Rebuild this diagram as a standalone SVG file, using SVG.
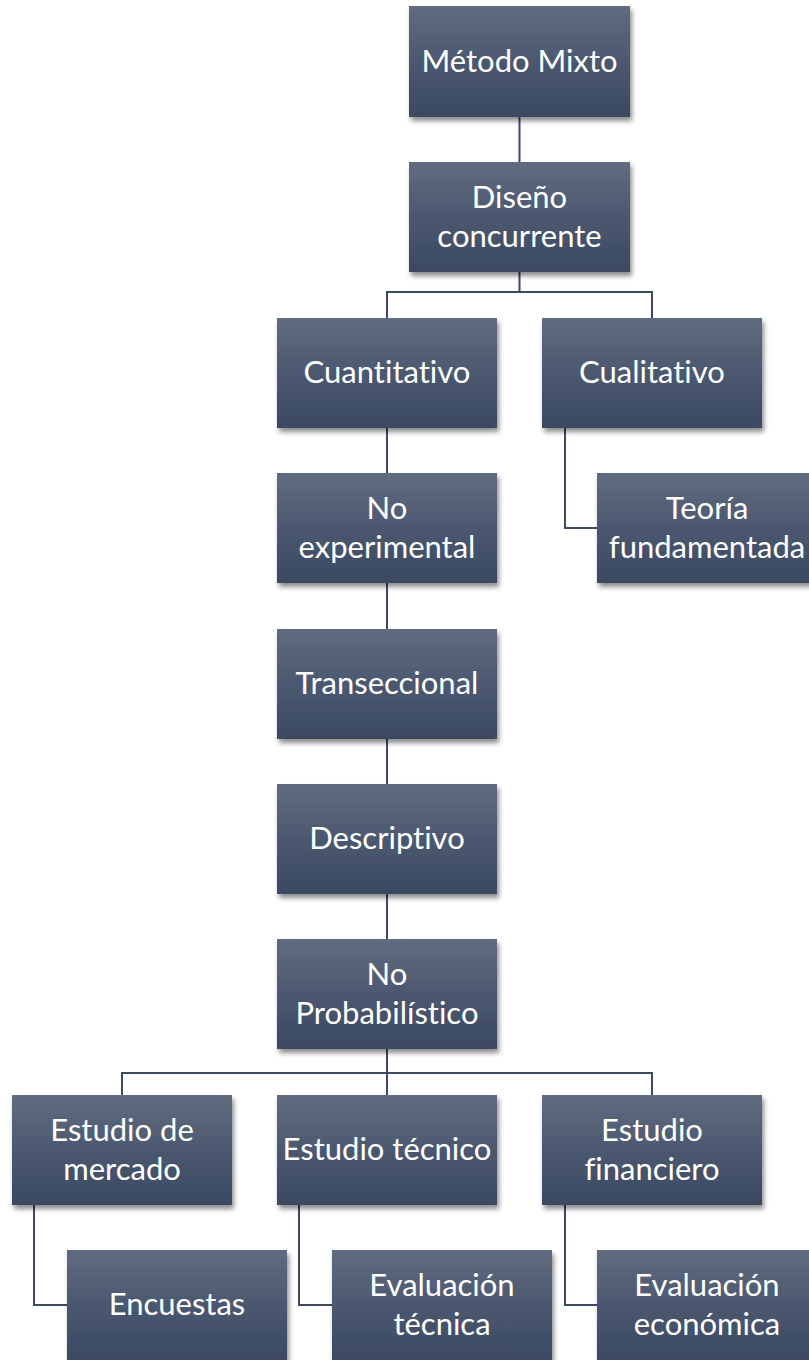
<svg xmlns="http://www.w3.org/2000/svg" width="809" height="1360" viewBox="0 0 809 1360">
<defs>
<linearGradient id="g" x1="0" y1="0" x2="0" y2="1">
<stop offset="0" stop-color="#616c7f"/>
<stop offset="0.5" stop-color="#4b5870"/>
<stop offset="1" stop-color="#3b4962"/>
</linearGradient>
<filter id="sh" x="-10%" y="-10%" width="125%" height="130%">
<feDropShadow dx="2" dy="4" stdDeviation="2.5" flood-color="#000" flood-opacity="0.45"/>
</filter>
</defs>
<style>
.box{fill:url(#g);filter:url(#sh);}
.t{font-family:Lato,"Liberation Sans",sans-serif;font-size:31px;fill:#ffffff;text-anchor:middle;font-variant-ligatures:none;font-feature-settings:"liga" 0,"clig" 0,"dlig" 0;}
.c{fill:none;stroke:#3d4a60;stroke-width:2;}
</style>
<rect width="809" height="1360" fill="#ffffff"/>
<g id="connectors">
<path class="c" d="M519.5,117 V162"/>
<path class="c" d="M519.5,272 V292 M387,318 V292 H652 V318"/>
<path class="c" d="M387,428 V473"/>
<path class="c" d="M565,428 V528 H597"/>
<path class="c" d="M387,583 V629"/>
<path class="c" d="M387,739 V784"/>
<path class="c" d="M387,894 V939"/>
<path class="c" d="M387,1049 V1095 M122,1095 V1073 H652 V1095"/>
<path class="c" d="M34,1205 V1305 H67"/>
<path class="c" d="M299,1205 V1305 H332"/>
<path class="c" d="M565,1205 V1305 H597"/>
</g>
<g id="n1"><rect class="box" x="409" y="6" width="221" height="111"/><text class="t" x="519.5" y="72">Método Mixto</text></g>
<g id="n2"><rect class="box" x="409" y="162" width="221" height="110"/><text class="t" x="519.5" y="208">Diseño</text><text class="t" x="519.5" y="247">concurrente</text></g>
<g id="n3"><rect class="box" x="277" y="318" width="220" height="110"/><text class="t" x="387" y="383">Cuantitativo</text></g>
<g id="n4"><rect class="box" x="542" y="318" width="220" height="110"/><text class="t" x="652" y="383">Cualitativo</text></g>
<g id="n5"><rect class="box" x="277" y="473" width="220" height="110"/><text class="t" x="387" y="519">No</text><text class="t" x="387" y="558">experimental</text></g>
<g id="n6"><rect class="box" x="597" y="473" width="220" height="110"/><text class="t" x="707" y="519">Teoría</text><text class="t" x="707" y="558">fundamentada</text></g>
<g id="n7"><rect class="box" x="277" y="629" width="220" height="110"/><text class="t" x="387" y="694">Transeccional</text></g>
<g id="n8"><rect class="box" x="277" y="784" width="220" height="110"/><text class="t" x="387" y="849">Descriptivo</text></g>
<g id="n9"><rect class="box" x="277" y="939" width="220" height="110"/><text class="t" x="387" y="985">No</text><text class="t" x="387" y="1024">Probabilístico</text></g>
<g id="n10"><rect class="box" x="12" y="1095" width="220" height="110"/><text class="t" x="122" y="1141">Estudio de</text><text class="t" x="122" y="1180">mercado</text></g>
<g id="n11"><rect class="box" x="277" y="1095" width="220" height="110"/><text class="t" x="387" y="1160">Estudio técnico</text></g>
<g id="n12"><rect class="box" x="542" y="1095" width="220" height="110"/><text class="t" x="652" y="1141">Estudio</text><text class="t" x="652" y="1180">financiero</text></g>
<g id="n13"><rect class="box" x="67" y="1250" width="220" height="110"/><text class="t" x="177" y="1315">Encuestas</text></g>
<g id="n14"><rect class="box" x="332" y="1250" width="220" height="110"/><text class="t" x="442" y="1296">Evaluación</text><text class="t" x="442" y="1335">técnica</text></g>
<g id="n15"><rect class="box" x="597" y="1250" width="220" height="110"/><text class="t" x="707" y="1296">Evaluación</text><text class="t" x="707" y="1335">económica</text></g>
</svg>
